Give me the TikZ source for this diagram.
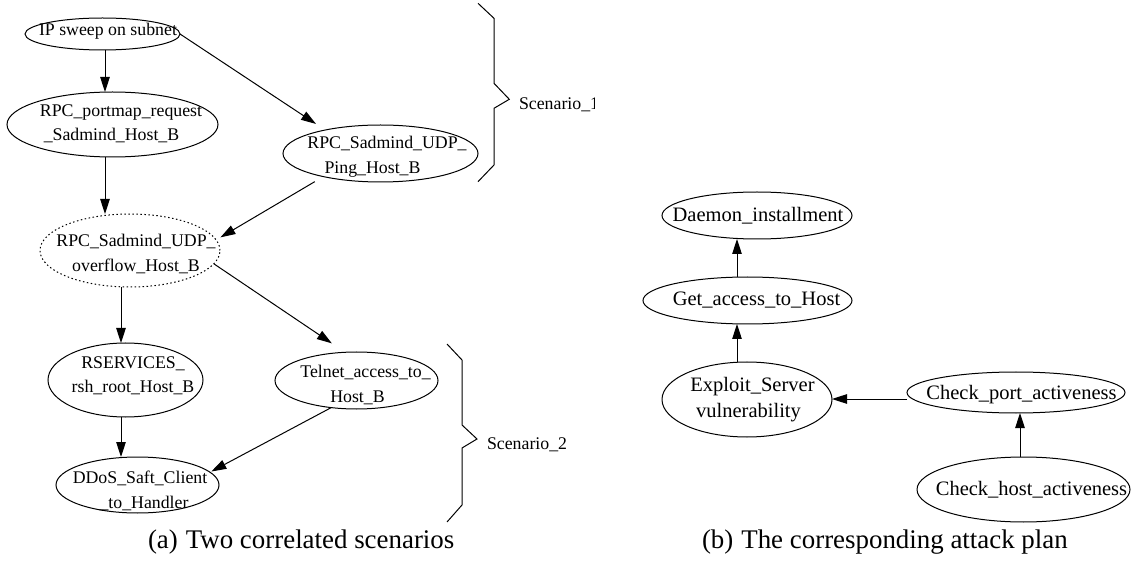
\documentclass[tikz,border=0pt]{standalone}
\usepackage{fontspec}
\setmainfont{Liberation Serif}
\usetikzlibrary{shapes.geometric,arrows.meta}

\begin{document}
\begin{tikzpicture}[x=1pt,y=-1pt,
  every node/.style={inner sep=0pt, outer sep=0pt},
  ev/.style={ellipse, draw, line width=1pt, inner sep=0pt, outer sep=0pt},
  ltext/.style={font=\fontsize{17.8}{24.4}\selectfont, align=center},
  rtext/.style={font=\fontsize{20.5}{25.5}\selectfont, align=center},
  arr/.style={line width=1pt, -{Triangle[length=15pt,width=9.5pt]}},
  bracel/.style={line width=1pt},
  capt/.style={font=\fontsize{26.9}{30}\selectfont, anchor=base west},
]
\useasboundingbox (0,0) rectangle (1141,561);

% ---------- (a) two correlated scenarios ----------
\node[ev, minimum width=155pt, minimum height=32pt,
  label={[ltext,xshift=5.5pt,yshift=3.2pt]center:IP sweep on subnet}] (ip) at (102.5,34) {};
\node[ev, minimum width=211pt, minimum height=65pt,
  label={[ltext,xshift=-1pt,yshift=0.8pt]center:{\hspace*{19pt}RPC\_portmap\_request\\\_Sadmind\_Host\_B}}] (pm) at (112.5,124.5) {};
\node[ev, minimum width=195pt, minimum height=57pt,
  label={[ltext,xshift=-8pt,yshift=-3.1pt]center:{\hspace*{29pt}RPC\_Sadmind\_UDP\_\\Ping\_Host\_B}}] (ping) at (380.5,153.5) {};
\node[ev, dash pattern=on 1.5pt off 2.5pt, minimum width=180pt, minimum height=73pt,
  label={[ltext,xshift=6pt,yshift=-3.6pt]center:{RPC\_Sadmind\_UDP\_\\overflow\_Host\_B}}] (ov) at (130,250.5) {};
\node[ev, minimum width=155pt, minimum height=74pt,
  label={[ltext,xshift=7.5pt,yshift=4.2pt]center:{RSERVICES\_\\rsh\_root\_Host\_B}}] (rs) at (125.5,380) {};
\node[ev, minimum width=163pt, minimum height=57pt,
  label={[ltext,xshift=1pt,yshift=-4.5pt]center:{\hspace*{16pt}Telnet\_access\_to\_\\Host\_B}}] (telnet) at (356.5,380.5) {};
\node[ev, minimum width=163pt, minimum height=56pt,
  label={[ltext,xshift=2.5pt,yshift=-5.8pt]center:{DDoS\_Saft\_Client\\\hspace*{8pt}\_to\_Handler}}] (dd) at (137.5,485) {};

\draw[arr] ([xshift=2.5pt]ip.south) -- ([xshift=2.5pt]ip.south |- pm.north);
\draw[arr, shorten >=11pt] (ip.east) -- (ping.157);
\draw[arr] ([xshift=-7.5pt]pm.south) -- ([xshift=-7.5pt]pm.south |- ov.north);
\draw[arr, shorten <=10pt, shorten >=5pt] (ping.202) -- (ov.7);
\draw[arr] ([xshift=-9pt]ov.south) -- ([xshift=-9pt]ov.south |- rs.north);
\draw[arr, shorten >=16pt] (ov.351) -- (telnet.112);
\draw[arr] ([xshift=-4.5pt]rs.south) -- ([xshift=-4.5pt]rs.south |- dd.north);
\draw[arr, shorten >=1.5pt] (telnet.227) -- (dd.10);

% scenario braces
\draw[bracel] (478,3.3) -- (494,18.3) -- (494,83.3) -- (509.3,99.3) -- (494,108.3) -- (494,165) -- (478,181.7);
\begin{scope}
  \clip (0,0) rectangle (594,561);
  \node[ltext, anchor=base west] (s1) at (519,109.3) {Scenario\_1};
\end{scope}
\draw[bracel] (447,344) -- (462,360) -- (462,425) -- (477,439) -- (462,448) -- (462,505) -- (447,522);
\node[ltext, anchor=base west] (s2) at (487,449.3) {Scenario\_2};

\node[capt] (capa) at (148,548) {(a)\hspace{8pt}Two correlated scenarios};

% ---------- (b) corresponding attack plan ----------
\node[ev, minimum width=190pt, minimum height=47pt,
  label={[rtext,xshift=1pt]center:Daemon\_installment}] (dae) at (757,215.5) {};
\node[ev, minimum width=209pt, minimum height=47pt,
  label={[rtext,xshift=9pt]center:Get\_access\_to\_Host}] (get) at (747.5,300.5) {};
\node[ev, minimum width=170pt, minimum height=75pt,
  label={[rtext,xshift=1.5pt]center:{\hspace*{8pt}Exploit\_Server\\vulnerability}}] (ex) at (747,399.5) {};
\node[ev, minimum width=218pt, minimum height=41pt,
  label={[rtext,xshift=5.5pt,yshift=-2pt]center:Check\_port\_activeness}] (port) at (1016,392.5) {};
\node[ev, minimum width=213pt, minimum height=65pt,
  label={[rtext,xshift=8pt]center:Check\_host\_activeness}] (host) at (1023.5,489.5) {};

\draw[arr] ([xshift=-10pt]ex.north) -- ([xshift=-10pt]ex.north |- get.south);
\draw[arr] ([xshift=-10.5pt]get.north) -- ([xshift=-10.5pt]get.north |- dae.south);
\draw[arr] ([yshift=-6.5pt]port.west) -- ([yshift=-6.5pt]port.west -| ex.east);
\draw[arr] ([xshift=-3.5pt]host.north) -- ([xshift=-3.5pt]host.north |- port.south);

\node[capt] (capb) at (702,548) {(b)\hspace{8pt}The corresponding attack plan};
\end{tikzpicture}
\end{document}
